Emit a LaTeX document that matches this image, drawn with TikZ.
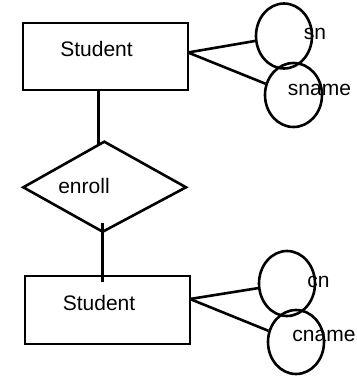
\documentclass[tikz,border=0pt]{standalone}
\usepackage{fontspec}
\setmainfont{Liberation Sans}
\usetikzlibrary{shapes.geometric}
\tikzset{
  ln/.style={line width=2.6pt, black},
  entity/.style={draw, ln, rectangle, inner sep=0pt},
  attr/.style={draw, ln, ellipse, inner sep=0pt, minimum width=56pt, minimum height=65pt},
  lbl/.style={anchor=base, inner sep=0pt, font=\fontsize{21}{25}\selectfont},
}
\begin{document}
\begin{tikzpicture}[x=1pt,y=-1pt]
\useasboundingbox (0,0) rectangle (356,380);
% entities
\node[entity, minimum width=165pt, minimum height=67pt] (s1) at (105.5,56.5) {};
\node[entity, minimum width=165pt, minimum height=68pt] (s2) at (107.5,310) {};
% attributes
\node[attr] (sn) at (284,36) {};
\node[attr, minimum width=57pt, minimum height=64pt] (sname) at (293.5,95) {};
\node[attr] (cn) at (287,283.5) {};
\node[attr, minimum height=64pt] (cname) at (296,342) {};
% relationship diamond
\coordinate (dl) at (23.3,187.3);
\coordinate (dt) at (104.3,141.7);
\coordinate (dr) at (186,187.3);
\coordinate (db) at (102.7,231.7);
\draw[ln, line join=miter] (dl) -- (dt) -- (dr) -- (db) -- cycle;
% labels
\node[lbl] (t1) at (96.5,56) {Student};
\node[lbl] (t2) at (99,310.7) {Student};
\node[lbl] (te) at (84,193) {enroll};
\node[lbl] (tsn) at (315,39) {sn};
\node[lbl] (tsname) at (319.5,95) {sname};
\node[lbl] (tcn) at (318.5,287) {cn};
\node[lbl] (tcname) at (324,341.5) {cname};
% connectors
\coordinate (a1) at (188,52.5);
\draw[ln] (a1) -- (sn);
\draw[ln] (a1) -- (sname);
\coordinate (a2) at (190,299);
\draw[ln] (a2) -- (cn);
\draw[ln] (a2) -- (cname);
\coordinate (v1a) at (98.3,90);
\coordinate (v1b) at (98.3,145);
\draw[ln] (v1a) -- (v1b);
\coordinate (v2a) at (102.5,223);
\coordinate (v2b) at (102.5,282);
\draw[ln] (v2a) -- (v2b);
\end{tikzpicture}
\end{document}
